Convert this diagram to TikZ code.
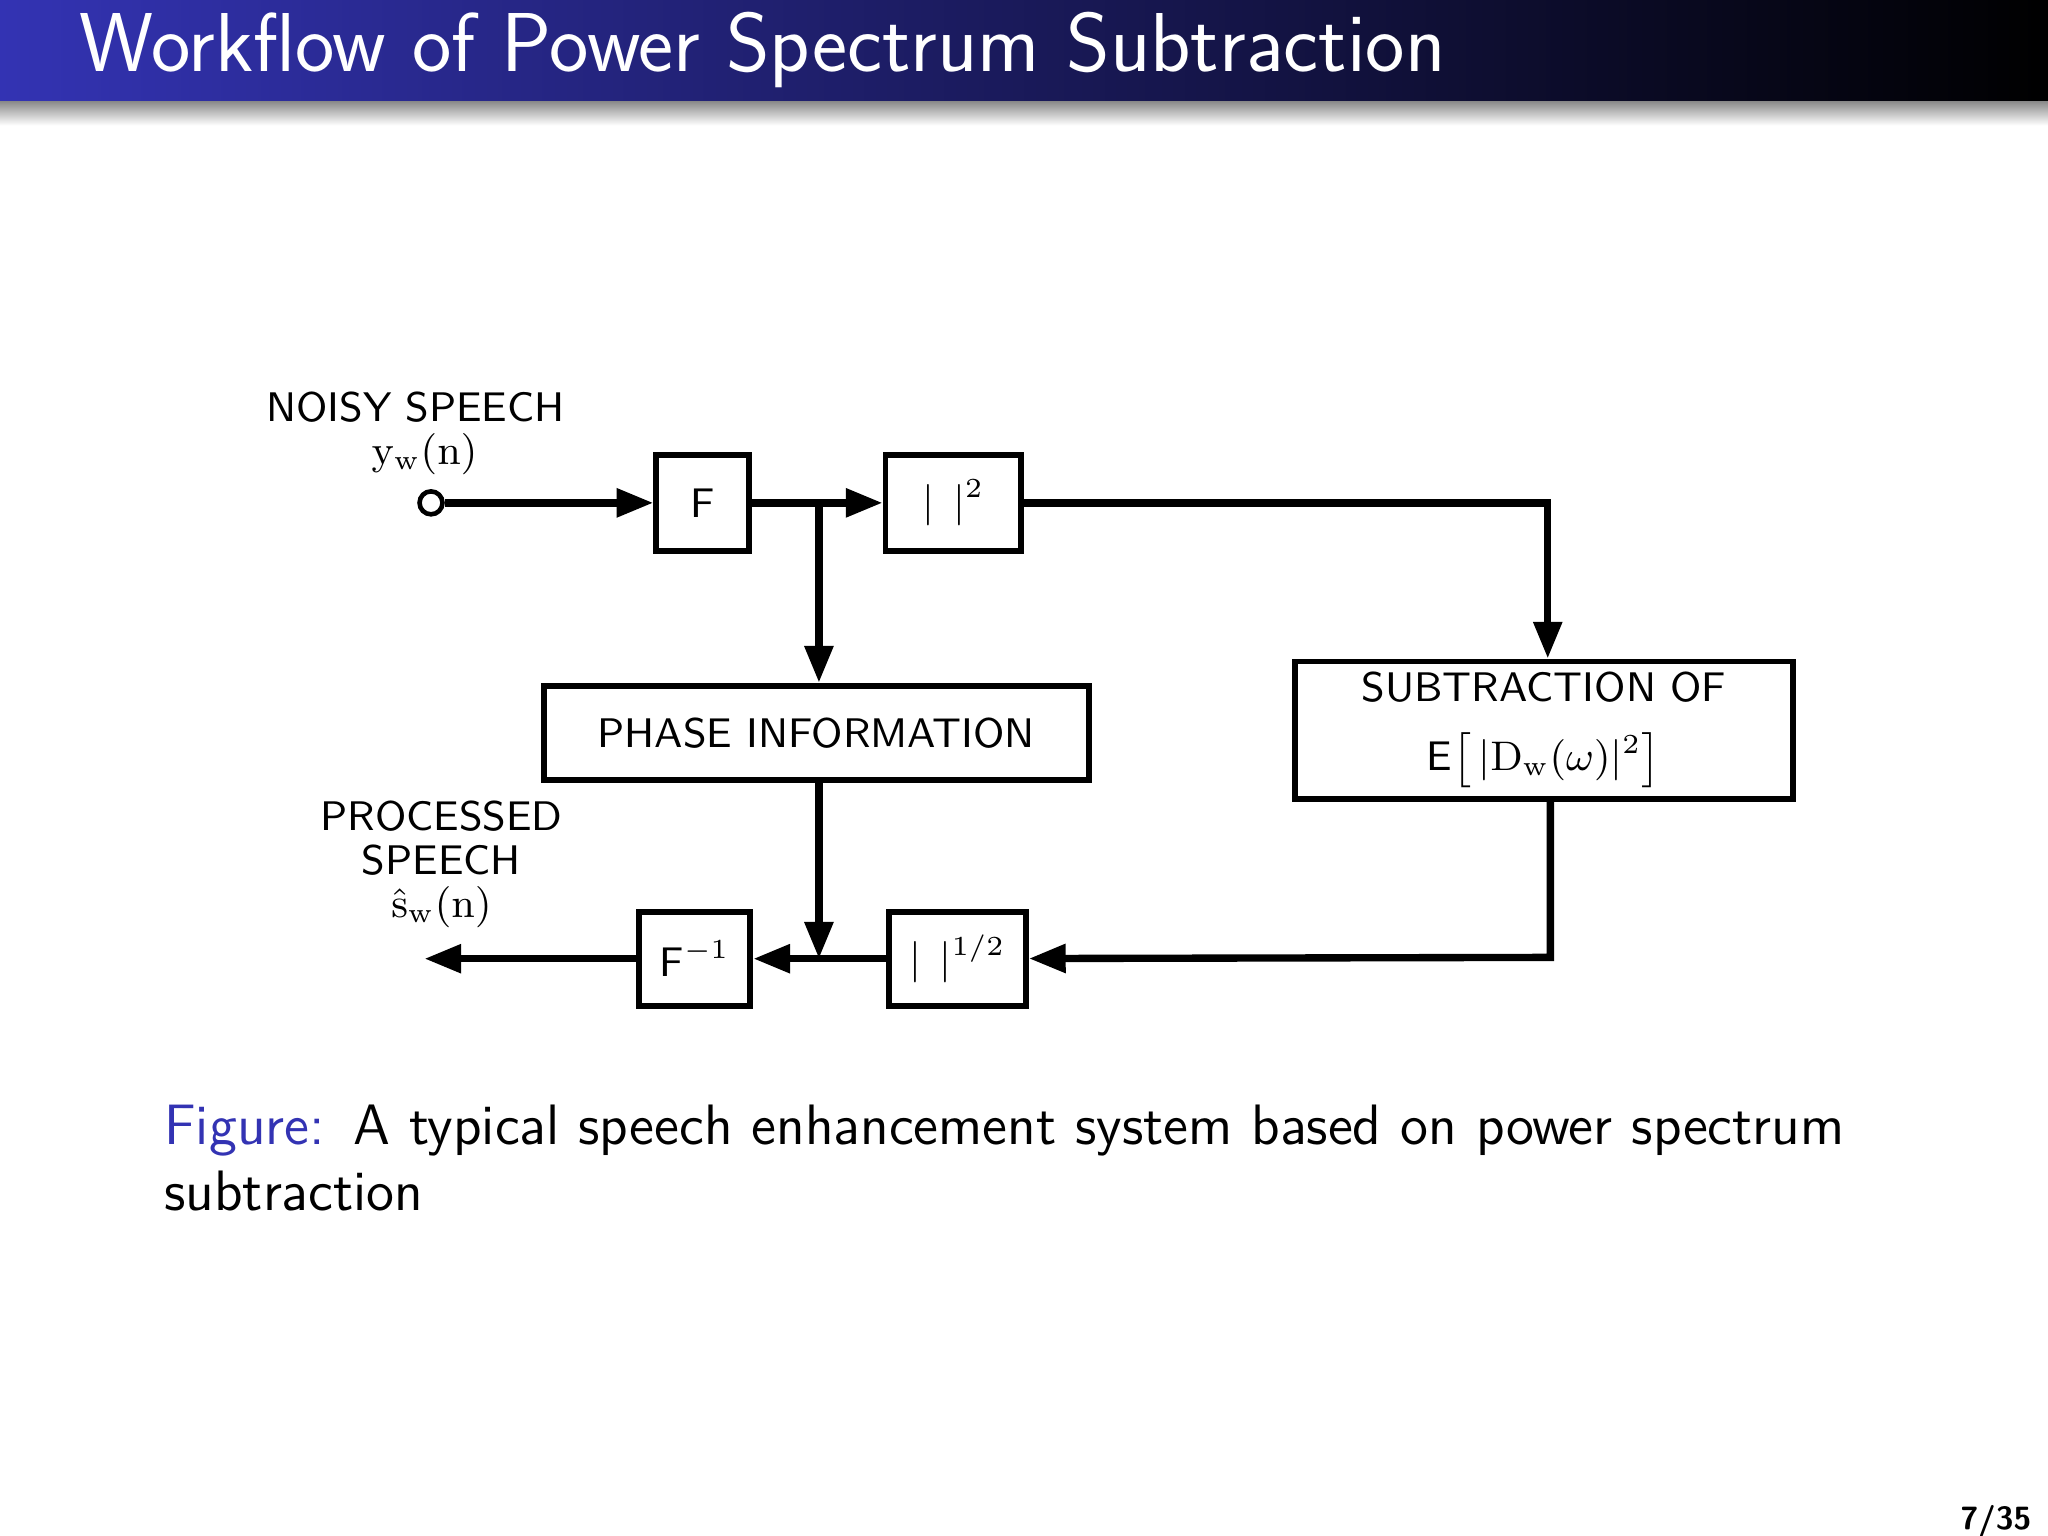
\documentclass[tikz,border=0pt]{standalone}
\usepackage{tikz}
\usepackage{sansmath}
\usetikzlibrary{positioning,arrows.meta}
\definecolor{beamerblue}{RGB}{51,51,179}
\begin{document}
\begin{tikzpicture}[x=0.01cm,y=-0.01cm,>={Triangle[length=8pt,width=6pt]},line width=1.6pt,font=\sffamily]
  \tikzstyle{block}=[draw=black,line width=1.3pt,inner sep=0pt,font=\sffamily\sansmath\fontsize{9}{10}\selectfont]
  \tikzstyle{lbl}=[inner sep=0pt,font=\sffamily\sansmath\fontsize{9}{11}\selectfont]
  \useasboundingbox (0,0) rectangle (1568,1176);
  % title bar
  \shade[left color=beamerblue,right color=black,draw=none] (0,0) rectangle (1568,78);
  \shade[top color=black!45,bottom color=white,draw=none] (0,78) rectangle (1568,96);
  \node[anchor=west,text=white,inner sep=0pt,font=\sffamily\fontsize{18.2}{20}\selectfont] (title) at (58,38) {Workflow of Power Spectrum Subtraction};

  % blocks
  \node[block,minimum width=0.71cm,minimum height=0.73cm] (F) at (538,385) {F};
  \node[block,minimum width=1.04cm,minimum height=0.73cm] (sq) at (730,385) {$|\;\,|^2$};
  \node[block,minimum width=4.17cm,minimum height=0.72cm] (phase) at (625,561) {PHASE INFORMATION};
  \node[block,minimum width=3.81cm,minimum height=1.05cm,align=center] (sub) at (1182,559) {SUBTRACTION OF\\[5pt] E$\big[\,|D_w(\omega)|^2\big]$};
  \node[block,minimum width=1.05cm,minimum height=0.72cm] (sqrt) at (733,734) {$|\;\,|^{1/2}$};
  \node[block,minimum width=0.85cm,minimum height=0.72cm] (Finv) at (532,734) {F$^{-1}$};

  % labels
  \node[lbl] (noisy) at (318,312) {NOISY SPEECH};
  \node[lbl] (yw) at (325,348) {$y_w(n)$};
  \node[lbl,align=center,font=\sffamily\sansmath\fontsize{9}{9.5}\selectfont] (proc) at (338,662) {PROCESSED\\SPEECH\\$\hat{s}_w(n)$};

  % coordinates
  \node[circle,draw,inner sep=0pt,minimum size=5pt,line width=1pt] (in) at (330,385) {};
  \coordinate (j1) at (627,385);
  \coordinate (c1) at (1185,385);
  \coordinate (c2) at (1187,733);
  \coordinate (j2) at (627,734);
  \coordinate (out) at (325,734);

  % edges
  \draw[->] (in) -- (F);
  \draw (F) -- (j1);
  \draw[->] (j1) -- (sq);
  \draw[->] (j1) -- (j1 |- phase.north);
  \draw[->] (sq) -- (c1) -- (c1 |- sub.north);
  \draw[->] (sub.south -| c2) -- (c2) -- (sqrt);
  \draw (sqrt) -- (j2);
  \draw[->] (j2 |- phase.south) -- (j2);
  \draw[->] (j2) -- (Finv);
  \draw[->] (Finv) -- (out);

  % caption
  \node[anchor=north west,text width=13.2cm,align=left,inner sep=0pt,font=\sffamily\fontsize{12.4}{14.5}\selectfont] (cap) at (123,843)
    {\textcolor{beamerblue}{Figure:} A typical speech enhancement system based on power spectrum subtraction};
  \node[anchor=east,inner sep=0pt,font=\sffamily\bfseries\fontsize{7}{8}\selectfont] (page) at (1558,1165) {7/35};
\end{tikzpicture}
\end{document}
